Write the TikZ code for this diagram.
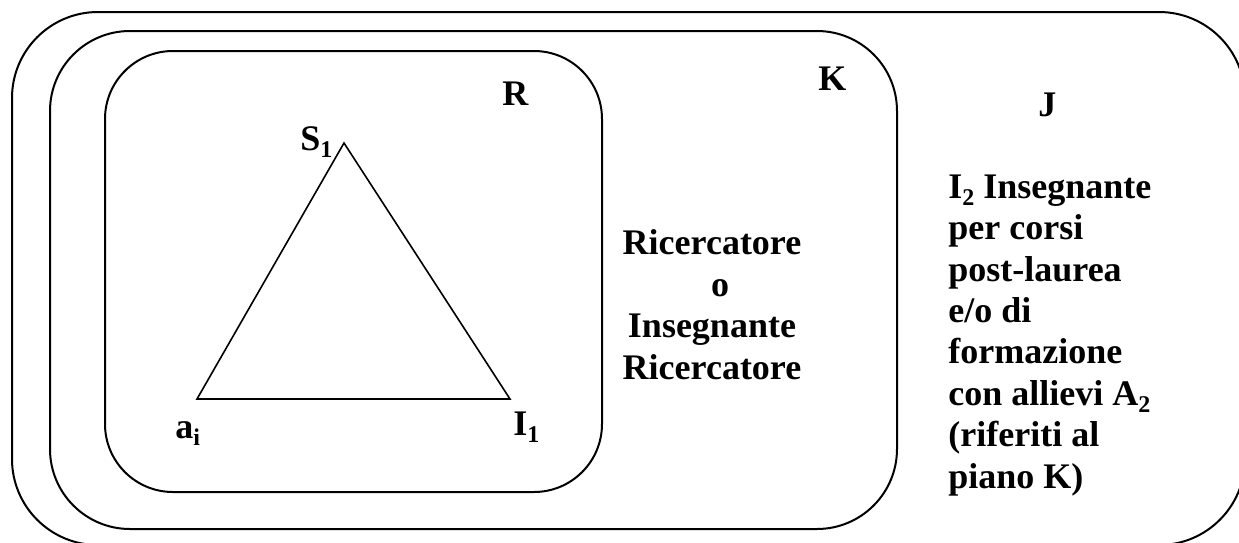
\documentclass[tikz,border=0pt]{standalone}
\usepackage{fontspec}
\setmainfont{Liberation Serif}
\newcommand\subs[1]{\raisebox{-0.2em}{\fontsize{12}{12}\selectfont #1}}
\begin{document}
\begin{tikzpicture}[x=0.5pt,y=-0.5pt,
  box/.style={draw, line width=1pt},
  tri/.style={draw, line width=0.8pt},
  lbl/.style={font=\fontsize{18}{20.7}\selectfont\bfseries, inner sep=0pt}]
\useasboundingbox (0,0) rectangle (1239,542);
\clip (0,0) rectangle (1239,542);
\draw[box, rounded corners=43pt] (12,12) rectangle (1245,545);
\draw[box, rounded corners=40pt] (50,31) rectangle (897,529);
\draw[box, rounded corners=34pt] (105,51) rectangle (602,492);
\coordinate (S1) at (344,143);
\coordinate (ai) at (197,399);
\coordinate (I1) at (510,399);
\draw[tri] (ai) -- (S1) -- (I1) -- cycle;
\node[lbl, anchor=base west] (lS) at (300,150) {S\subs{1}};
\node[lbl, anchor=base west] (la) at (175,438) {a\subs{i}};
\node[lbl, anchor=base west] (lI) at (513,435) {I\subs{1}};
\node[lbl, anchor=base west] (lR) at (502,105) {R};
\node[lbl, anchor=base west] (lK) at (818,90) {K};
\node[lbl, anchor=base west] (lJ) at (1038,116) {J};
\node[lbl, anchor=base, align=center] (ric) at (712,379)
  {Ricercatore\\\hspace*{8pt}o\\Insegnante\hspace*{9pt}\\Ricercatore};
\node[lbl, anchor=base west, align=left] (ins) at (948,488)
  {I\subs{2} Insegnante\\per corsi\\post-laurea\\e/o di\\formazione\\con allievi A\subs{2}\\(riferiti al\\piano K)};
\end{tikzpicture}
\end{document}
